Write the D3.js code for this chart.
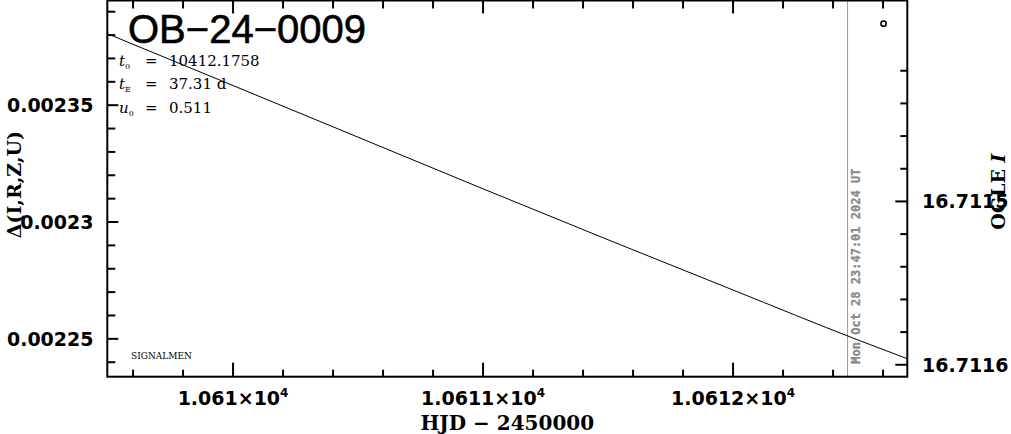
<!DOCTYPE html>
<html><head><meta charset="utf-8">
<script src="https://cdn.jsdelivr.net/npm/d3@7"></script>
<style>
html,body{margin:0;padding:0;background:#fff;}
svg{display:block;}
</style></head>
<body>
<svg id="chart" width="1011" height="434"></svg>
<script>
// ---------- data ----------
const modelT    = [10609.497, 10610.0, 10610.5, 10611.0, 10611.5, 10612.0, 10612.5, 10612.697];
const modelFlux = [0.0023806, 0.0023584, 0.0023363, 0.0023142, 0.0022924, 0.0022709, 0.0022495, 0.0022415];
const pointT    = [10612.602];
const pointFlux = [0.0023849];
const xDomain   = [10609.497, 10612.697];
const yDomain   = [0.0022338, 0.0023948];
const magDomain = [16.711377, 16.7116073];
const xMajorTicks = [10610, 10611, 10612];
const xTickMantissa = ["1.061", "1.0611", "1.0612"];
const xTickExp = ["4", "4", "4"];
const yMajorTicks = [0.00225, 0.0023, 0.00235];
const yTickLabels = ["0.00225", "0.0023", "0.00235"];
const magMajorTicks = [16.7115, 16.7116];
const magTickLabels = ["16.7115", "16.7116"];
const magMinorTicks = [16.71142, 16.71144, 16.71146, 16.71148, 16.71152, 16.71154, 16.71156, 16.71158];
const nowT = 10612.458;
const nowLabel = "Mon Oct 28 23:47:01 2024 UT";
const eventName = "OB\u221224\u22120009";
const paramSymbols = ["t", "t", "u"];
const paramSubs = ["0", "E", "0"];
const paramValues = ["10412.1758", "37.31 d", "0.511"];

// ---------- layout ----------
const L = 107.3, R = 907.3, T = 0.5, B = 376.7;
const svg = d3.select("#chart");
const x = d3.scaleLinear().domain(xDomain).range([L, R]);
const y = d3.scaleLinear().domain(yDomain).range([B, T]);
const ym = d3.scaleLinear().domain(magDomain).range([T, B]);

const g = svg.append("g");

// now line
g.append("line").attr("x1", x(nowT)).attr("x2", x(nowT)).attr("y1", T).attr("y2", B)
  .attr("stroke", "#999").attr("stroke-width", 1);
g.append("text").attr("transform", `translate(${x(nowT)+12},${B-13}) rotate(-90)`)
  .attr("font-family", "DejaVu Sans Mono").attr("font-weight", "bold").attr("font-size", 12)
  .attr("fill", "#8a8a8a").attr("stroke", "#8a8a8a").attr("stroke-width", 0.3).text(nowLabel);

// model line
const line = d3.line().x(d => x(d[0])).y(d => y(d[1])).curve(d3.curveMonotoneX);
g.append("path").datum(modelT.map((t, i) => [t, modelFlux[i]]))
  .attr("d", line).attr("fill", "none").attr("stroke", "#000").attr("stroke-width", 1);

// point
g.selectAll("circle.pt").data(pointT.map((t, i) => [t, pointFlux[i]])).enter()
  .append("circle").attr("cx", d => x(d[0])).attr("cy", d => y(d[1])).attr("r", 2.6)
  .attr("fill", "#fff").attr("stroke", "#000").attr("stroke-width", 1.6);

// axes (ticks inside)
const ax = svg.append("g").attr("stroke", "#000");
const xMinor = x.ticks(16).filter(v => !xMajorTicks.some(m => Math.abs(m - v) < 1e-6));
function tick(x1, y1, x2, y2) {
  ax.append("line").attr("x1", x1).attr("y1", y1).attr("x2", x2).attr("y2", y2).attr("stroke-width", 2);
}
xMajorTicks.forEach(v => { tick(x(v), B, x(v), B - 14); tick(x(v), T, x(v), T + 13); });
xMinor.forEach(v => { tick(x(v), B, x(v), B - 7); tick(x(v), T, x(v), T + 8); });
const yMinor = y.ticks(20).filter(v => !yMajorTicks.some(m => Math.abs(m - v) < 1e-9));
yMajorTicks.forEach(v => tick(L, y(v), L + 11, y(v)));
yMinor.forEach(v => tick(L, y(v), L + 8, y(v)));
magMajorTicks.forEach(v => tick(R, ym(v), R - 12, ym(v)));
magMinorTicks.forEach(v => tick(R, ym(v), R - 7, ym(v)));

// frame
svg.append("rect").attr("x", L).attr("y", T).attr("width", R - L).attr("height", B - T)
  .attr("fill", "none").attr("stroke", "#000").attr("stroke-width", 2);

// tick labels
const lab = svg.append("g").attr("font-family", "DejaVu Sans").attr("font-weight", "bold")
  .attr("font-size", 19).attr("fill", "#000");
yMajorTicks.forEach((v, i) => lab.append("text").attr("x", 93.5).attr("y", y(v) + 7)
  .attr("text-anchor", "end").text(yTickLabels[i]));
magMajorTicks.forEach((v, i) => lab.append("text").attr("x", 922).attr("y", ym(v) + 7)
  .attr("text-anchor", "start").text(magTickLabels[i]));
xMajorTicks.forEach((v, i) => {
  const t = lab.append("text").attr("x", x(v)).attr("y", 405).attr("text-anchor", "middle");
  t.append("tspan").text(xTickMantissa[i] + "\u00d710");
  t.append("tspan").attr("font-size", 12).attr("dy", -8).text(xTickExp[i]);
});

// axis titles
svg.append("text").attr("x", (L + R) / 2).attr("y", 430).attr("text-anchor", "middle")
  .attr("font-family", "DejaVu Serif").attr("font-weight", "bold").attr("font-size", 20)
  .text("HJD \u2212 2450000");
svg.append("text").attr("transform", `translate(21,${(T + B) / 2 - 4}) rotate(-90)`)
  .attr("text-anchor", "middle").attr("font-family", "DejaVu Serif").attr("font-weight", "bold")
  .attr("font-size", 19).text("\u0394(I,R,Z,U)");
const ogle = svg.append("text").attr("transform", `translate(1005,${(T + B) / 2 + 3}) rotate(-90)`)
  .attr("text-anchor", "middle").attr("font-family", "DejaVu Serif").attr("font-weight", "bold")
  .attr("font-size", 19);
ogle.append("tspan").text("OGLE ");
ogle.append("tspan").attr("font-style", "italic").text("I");

// event name & parameters
svg.append("text").attr("x", 128).attr("y", 43).attr("font-family", "Liberation Sans")
  .attr("font-size", 40).attr("fill", "#000").attr("stroke", "#000").attr("stroke-width", 0.6)
  .text(eventName);
const pg = svg.append("g").attr("font-family", "DejaVu Serif").attr("font-size", 15).attr("fill", "#000");
paramSymbols.forEach((s, i) => {
  const yy = 66 + i * 23.3;
  const t = pg.append("text").attr("x", 119).attr("y", yy);
  t.append("tspan").attr("font-style", "italic").text(s);
  t.append("tspan").attr("font-size", 8).attr("dy", 3).text(paramSubs[i]);
  pg.append("text").attr("x", 145).attr("y", yy).text("=");
  pg.append("text").attr("x", 169).attr("y", yy).text(paramValues[i]);
});
svg.append("text").attr("x", 131).attr("y", 358.5).attr("font-family", "DejaVu Serif")
  .attr("font-size", 9).text("SIGNALMEN");
</script>
</body></html>
